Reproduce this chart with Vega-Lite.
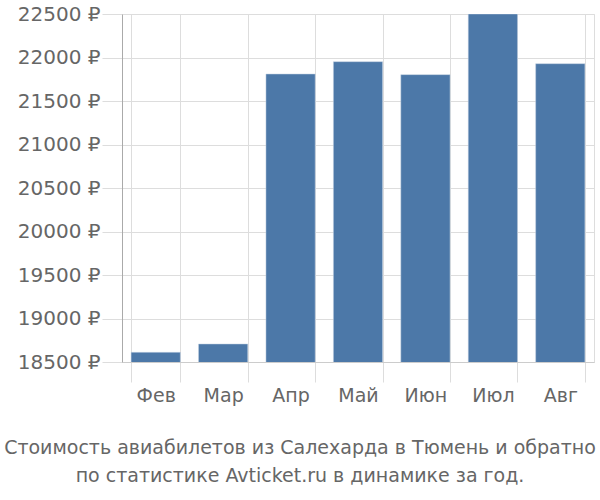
{
  "$schema": "https://vega.github.io/schema/vega-lite/v6.json",
  "width": 472,
  "height": 348,
  "autosize": "none",
  "padding": {"left": 122, "top": 14, "right": 6, "bottom": 138},
  "background": "white",
  "data": {
    "values": [
      {"month": "Фев", "price": 18611},
      {"month": "Мар", "price": 18707},
      {"month": "Апр", "price": 21810},
      {"month": "Май", "price": 21952},
      {"month": "Июн", "price": 21803},
      {"month": "Июл", "price": 22500},
      {"month": "Авг", "price": 21929}
    ]
  },
  "title": {
    "text": ["Стоимость авиабилетов из Салехарда в Тюмень и обратно", "по статистике Avticket.ru в динамике за год."],
    "orient": "bottom",
    "anchor": "middle",
    "dx": -58,
    "font": "DejaVu Sans",
    "fontSize": 19,
    "fontWeight": "normal",
    "color": "#666666",
    "lineHeight": 28,
    "offset": 34
  },
  "mark": {"type": "bar", "color": "#4c78a8", "stroke": "#c5d2e3", "strokeWidth": 0.5, "clip": true},
  "encoding": {
    "x": {
      "field": "month",
      "type": "nominal",
      "sort": null,
      "scale": {"paddingInner": 0.27, "paddingOuter": 0.135},
      "axis": {
        "title": null,
        "tickBand": "extent",
        "tickSize": 20,
        "tickColor": "#dddddd",
        "grid": true,
        "gridColor": "#dddddd",
        "domain": true,
        "domainColor": "#cccccc",
        "labelAngle": 0,
        "labelFont": "DejaVu Sans",
        "labelFontSize": 19,
        "labelColor": "#666666",
        "labelPadding": 4
      }
    },
    "y": {
      "field": "price",
      "type": "quantitative",
      "scale": {"domain": [18500, 22500], "zero": false, "nice": false},
      "axis": {
        "title": null,
        "values": [18500, 19000, 19500, 20000, 20500, 21000, 21500, 22000, 22500],
        "labelExpr": "datum.value + ' ₽'",
        "tickSize": 20,
        "tickColor": "#dddddd",
        "grid": true,
        "gridColor": "#dddddd",
        "domain": true,
        "domainColor": "#aaaaaa",
        "labelFont": "DejaVu Sans",
        "labelFontSize": 20,
        "labelColor": "#666666",
        "labelPadding": 2
      }
    }
  },
  "config": {
    "view": {"stroke": "#dddddd"},
    "axis": {"gridWidth": 1, "tickWidth": 1}
  }
}
